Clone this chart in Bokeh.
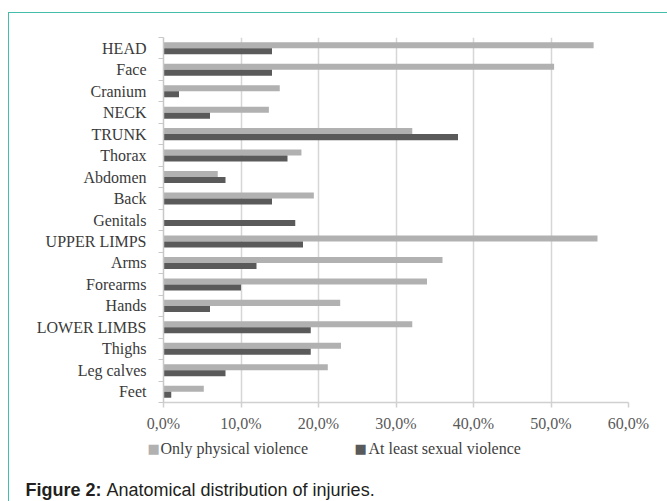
from bokeh.plotting import figure
from bokeh.models import (Range1d, FixedTicker, Label, ColumnDataSource,
                          InlineStyleSheet)
from bokeh.transform import dodge
from bokeh.embed import file_html
from bokeh.resources import INLINE

categories = ["HEAD", "Face", "Cranium", "NECK", "TRUNK", "Thorax", "Abdomen",
              "Back", "Genitals", "UPPER LIMPS", "Arms", "Forearms", "Hands",
              "LOWER LIMBS", "Thighs", "Leg calves", "Feet"]
only_physical = [55.5, 50.4, 15.0, 13.6, 32.1, 17.8, 7.0, 19.4, 0.0, 56.0,
                 36.0, 34.0, 22.8, 32.1, 22.9, 21.2, 5.2]
at_least_sexual = [14.0, 14.0, 2.0, 6.0, 38.0, 16.0, 8.0, 14.0, 17.0, 18.0,
                   12.0, 10.0, 6.0, 19.0, 19.0, 8.0, 1.0]
x_ticks = [0, 10, 20, 30, 40, 50, 60]
x_tick_labels = ["0,0%", "10,0%", "20,0%", "30,0%", "40,0%", "50,0%", "60,0%"]
series_names = ["Only physical violence", "At least sexual violence"]
series_colors = ["#b1b1b1", "#5a5a5a"]
caption_bold = "Figure 2:"
caption_text = "Anatomical distribution of injuries."

TEAL = "#45bdab"
n = len(categories)
pos = [n - i - 0.5 for i in range(n)]
bounds = [float(i) for i in range(n + 1)]

src = ColumnDataSource(dict(cat=categories, pos=pos, phys=only_physical,
                            sex=at_least_sexual))

p = figure(frame_width=465, frame_height=365, x_range=Range1d(0, 60),
           y_range=Range1d(0, n), output_backend="svg", toolbar_location=None,
           min_border_left=163, min_border_right=39, min_border_top=37,
           min_border_bottom=99)
p.outline_line_color = None
p.background_fill_color = "white"
p.border_fill_color = "white"

# teal page frame (decoration) drawn with CSS; keep the page within the window
p.stylesheets = [InlineStyleSheet(css=(
    ":host { max-width: 667px; max-height: 501px; overflow: hidden; }"
    ":host::before { content: ''; position: absolute; left: 8px; top: 12px; "
    "right: 0px; bottom: 0px; border-left: 1.5px solid " + TEAL + "; "
    "border-top: 1.5px solid " + TEAL + "; pointer-events: none; z-index: 100; }"
))]

p.xgrid.ticker = FixedTicker(ticks=x_ticks)
p.xgrid.grid_line_color = "#d6d6d6"
p.xgrid.grid_line_width = 1.5
p.ygrid.grid_line_color = None

p.xaxis.ticker = FixedTicker(ticks=x_ticks)
p.xaxis.major_label_overrides = {t: l for t, l in zip(x_ticks, x_tick_labels)}
p.xaxis.axis_line_color = "#d0d0d0"
p.xaxis.axis_line_width = 1.5
p.xaxis.major_tick_line_color = "#d0d0d0"
p.xaxis.major_tick_line_width = 1.5
p.xaxis.major_tick_out = 5
p.xaxis.major_tick_in = 0
p.xaxis.minor_tick_line_color = None
p.xaxis.major_label_standoff = 7
p.xaxis.major_label_text_font = "Liberation Serif"
p.xaxis.major_label_text_font_size = "16px"
p.xaxis.major_label_text_color = "#595959"

p.yaxis.ticker = FixedTicker(ticks=pos, minor_ticks=bounds)
p.yaxis.major_label_overrides = {t: c for t, c in zip(pos, categories)}
p.yaxis.axis_line_color = "#c8c8c8"
p.yaxis.axis_line_width = 1.5
p.yaxis.major_tick_line_color = None
p.yaxis.major_tick_out = 0
p.yaxis.major_tick_in = 0
p.yaxis.minor_tick_line_color = "#c8c8c8"
p.yaxis.minor_tick_line_width = 1.2
p.yaxis.minor_tick_out = 5
p.yaxis.minor_tick_in = 0
p.yaxis.major_label_standoff = 12
p.yaxis.major_label_text_font = "Liberation Serif"
p.yaxis.major_label_text_font_size = "16px"
p.yaxis.major_label_text_color = "#3a3a3a"

p.hbar(y=dodge("pos", 0.14, range=p.y_range), left=0, right="phys",
       height=0.28, fill_color=series_colors[0], line_color=None, source=src)
p.hbar(y=dodge("pos", -0.14, range=p.y_range), left=0, right="sex",
       height=0.28, fill_color=series_colors[1], line_color=None, source=src)

# legend (squares + texts), placed in canvas pixels below the axis
legend_y = 447.5
for sx, tx, name, col in zip([147, 354], [160, 368], series_names, series_colors):
    p.add_layout(Label(x=sx, y=legend_y + 0.5, x_units="canvas", y_units="canvas",
                       text="\u25a0", text_font="DejaVu Sans",
                       text_font_size="13px", text_color=col,
                       text_baseline="middle"), "below")
    p.add_layout(Label(x=tx, y=legend_y, x_units="canvas", y_units="canvas",
                       text=name, text_font="Liberation Serif",
                       text_font_size="16px", text_color="#404040",
                       text_baseline="middle"), "below")

# caption
p.add_layout(Label(x=25, y=489, x_units="canvas", y_units="canvas",
                   text=caption_bold, text_font="Liberation Sans",
                   text_font_style="bold", text_font_size="18px",
                   text_color="#231f20", text_baseline="alphabetic"), "below")
p.add_layout(Label(x=106, y=489, x_units="canvas", y_units="canvas",
                   text=caption_text, text_font="Liberation Sans",
                   text_font_size="18px", text_color="#231f20",
                   text_baseline="alphabetic"), "below")

open("out.html", "w").write(file_html(p, INLINE))
